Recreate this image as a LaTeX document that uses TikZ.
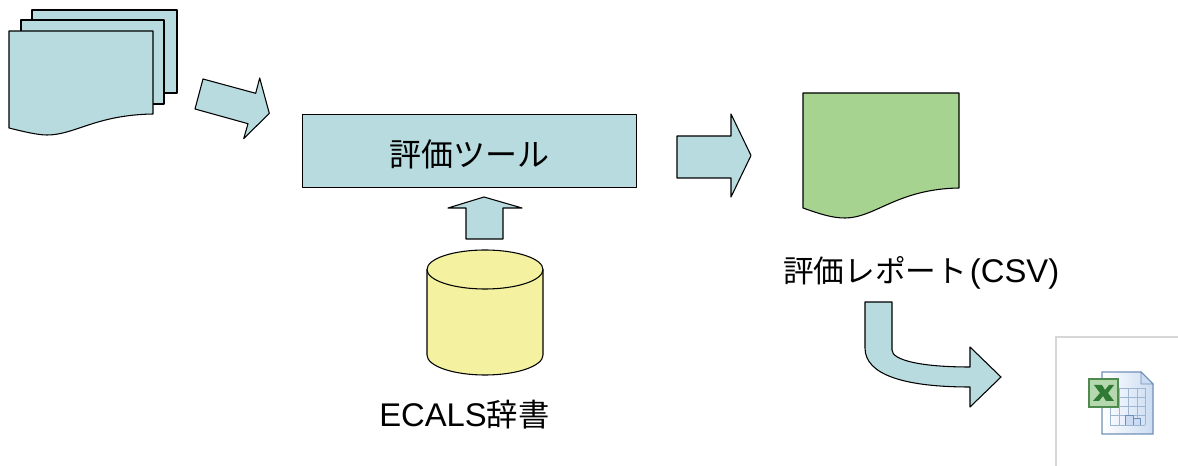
\documentclass[tikz,border=0pt]{standalone}
\usepackage{fontspec}
\setmainfont{Liberation Sans}
\newfontfamily\cjk{Noto Sans CJK JP}
\definecolor{blueshape}{HTML}{B7DBDF}
\definecolor{greenshape}{HTML}{A6D38F}
\definecolor{yellowshape}{HTML}{F4F1A0}
\definecolor{cardedge}{HTML}{D6D6D6}
\definecolor{pageedge}{HTML}{6F8FB8}
\definecolor{pagefill}{HTML}{CBDCF2}
\definecolor{gridblue}{HTML}{9DB6D2}
\definecolor{xedge}{HTML}{4F8A4F}
\definecolor{xfill}{HTML}{B5D8AE}
\definecolor{xmarkgreen}{HTML}{2F7A35}
\tikzset{
  shapeline/.style={draw=black,line width=0.8pt,line join=round},
  bluefill/.style={shapeline,fill=blueshape},
  lbl/.style={inner sep=0pt,text=black,font=\fontsize{24}{28}\selectfont},
  gridline/.style={draw=gridblue,line width=0.6pt}
}
\begin{document}
\begin{tikzpicture}[x=0.75pt,y=-0.75pt]
\useasboundingbox (0,0) rectangle (1178,466);
% stacked documents
\draw[bluefill] (32,10) -- (177,10) -- (177,93) -- (32,93) -- cycle;
\draw[bluefill] (21,20) -- (164,20) -- (164,104) -- (21,104) -- cycle;
\draw[bluefill] (9,31) -- (153,31) -- (153,114) .. controls (95,115) and (75,135) .. (47,135) .. controls (38,135) and (25,132) .. (9,128) -- cycle;
% arrow from documents
\draw[bluefill] (203,79) -- (255.7,93.3) -- (259.7,78) -- (269.3,113.3) -- (243.7,138.7) -- (248,123.7) -- (195,109) -- cycle;
% tool
\node[bluefill,minimum width=250.5pt,minimum height=54.5pt,inner sep=0pt,anchor=north west,lbl] (tool) at (302,114) {\raisebox{-11.6pt}[8pt][8pt]{\cjk 評価ツール}};
% arrow to report
\draw[bluefill] (677,136) -- (731,136) -- (731,114) -- (751,155.5) -- (731,197) -- (731,178) -- (677,178) -- cycle;
% report document
\draw[shapeline,fill=greenshape] (803,93) -- (959,93) -- (959,188) .. controls (897,189) and (875,218) .. (845,218) .. controls (832,218) and (820,214) .. (803,208) -- cycle;
\node[lbl,anchor=west] (report) at (783,272.5) {{\fontsize{23}{28}\selectfont\cjk 評価レポート}\kern2pt{\fontsize{24.6}{28}\selectfont (CSV)}};
% up arrow
\draw[bluefill] (466,239) -- (503,239) -- (503,208) -- (522,208) -- (484,197) -- (448,208) -- (466,208) -- cycle;
% cylinder
\draw[shapeline,fill=yellowshape] (427,269.5) -- (427,355) arc[start angle=180,end angle=360,x radius=58,y radius=-20] -- (543,269.5) arc[start angle=0,end angle=-180,x radius=58,y radius=19.5] -- cycle;
\draw[shapeline] (427,269.5) arc[start angle=180,end angle=360,x radius=58,y radius=-19.5];
\node[lbl,anchor=west] (dict) at (379,415) {{\fontsize{24.6}{28}\selectfont ECALS}{\fontsize{23.5}{28}\selectfont\cjk 辞書}};
% curved arrow
\draw[bluefill] (865,302) -- (892,302) -- (892,350) .. controls (892,360) and (920,367) .. (970,367) -- (970,347) -- (1001,377) -- (970,407) -- (970,387) .. controls (905,387) and (865,375) .. (865,348) -- cycle;
% excel card
\draw[cardedge,line width=0.9pt] (1178,337) -- (1056,337) -- (1056,466);
\shade[left color=white,right color=pagefill] (1102,372) -- (1141,372) -- (1153,384) -- (1153,434) -- (1102,434) -- cycle;
\foreach \gx in {1110,1119,1128,1137,1145} \draw[gridline] (\gx,388) -- (\gx,425);
\foreach \gy in {388,397,406,415,425} \draw[gridline] (1110,\gy) -- (1145,\gy);
\draw[draw=pageedge,line width=0.9pt] (1102,372) -- (1141,372) -- (1153,384) -- (1153,434) -- (1102,434) -- cycle;
\draw[draw=pageedge,line width=0.6pt,fill=pagefill] (1141,372) -- (1141,384) -- (1153,384) -- cycle;
\draw[draw=pageedge,line width=0.7pt,fill=pagefill] (1125,425) -- (1125,415) -- (1133,415) -- (1133,425) (1133,425) -- (1133,418) -- (1140,418) -- (1140,425);
\draw[draw=xedge,line width=1pt,fill=xfill] (1089,379) rectangle (1118,407);
\fill[xmarkgreen] (1094,385) -- (1102,385) -- (1105,390) -- (1109,385) -- (1114,385) -- (1108,393) -- (1114,401) -- (1106,401) -- (1103,396) -- (1099,401) -- (1093,401) -- (1100,393) -- cycle;
\end{tikzpicture}
\end{document}
